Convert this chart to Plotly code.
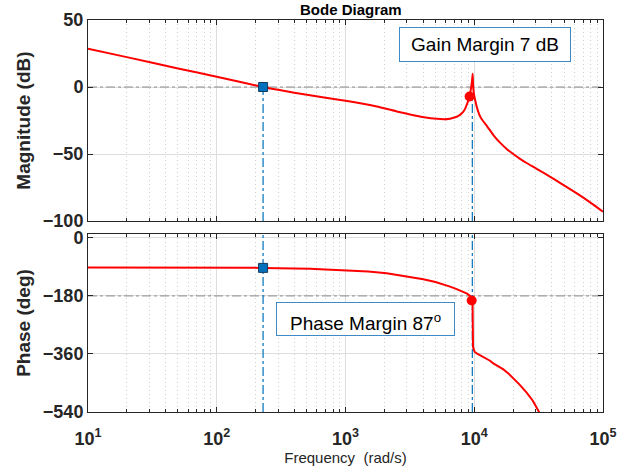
import numpy as np
import plotly.graph_objects as go

# ---- data ----
mag_w = [10, 20, 50, 100, 229, 300, 400, 530, 700, 1000, 1400, 1750, 2500,
         3365, 4200, 5105, 5800, 6486, 7311, 7745, 8200, 8472, 8800, 8995,
         9162, 9376, 9594, 9727, 9790, 9850, 10000, 10233, 10471, 10839, 11220,
         11776, 12589, 14125, 15849, 17783, 19953, 22387, 25119, 30549, 39811,
         50119, 63096, 79433, 100000]
mag_db = [28.6, 22.3, 13.9, 7.7, 0.0, -2.1, -4.2, -6.2, -8.0, -10.2, -12.6,
          -14.5, -18.2, -21.0, -22.8, -23.7, -24.0, -23.6, -22.2, -20.8, -18.5,
          -16.5, -12.5, -10.0, -7.5, -2.5, 4.0, 10.0, 2.0, -2.0, -6.5, -11.0,
          -15.0, -19.5, -22.8, -25.7, -29.3, -36.0, -41.5, -46.0, -49.8, -53.2,
          -56.3, -61.0, -67.5, -73.5, -79.5, -86.0, -93.0]

ph_w = [10, 100, 229, 530, 1000, 1500, 2090, 3170, 4018, 5000, 5754, 6486,
        7300, 8222, 8800, 9268, 9550, 9700, 9780, 9900, 10050, 10447, 11500,
        12500, 13250, 14060, 15500, 16830, 18500, 19950, 22500, 25530, 28500,
        31480, 34000]
ph_deg = [-92.0, -92.5, -93.0, -96.0, -100.0, -104.5, -110.0, -120.0, -128.0,
          -137.0, -144.0, -151.0, -159.0, -167.0, -173.0, -180.0, -190.0,
          -200.0, -338.0, -348.0, -353.0, -358.0, -367.0, -374.0, -381.0,
          -389.0, -398.0, -408.0, -421.0, -434.0, -455.0, -480.0, -505.0,
          -536.0, -565.0]

wc = 229          # gain crossover frequency (rad/s)
wc_mag = 0.0
wc_ph = -93.0
wpc = 9660        # phase crossover line (rad/s)
gm_w, gm_mag = 9200, -7.0
pm_w, pm_ph = 9550, -194.0

x_major = [10, 100, 1000, 10000, 100000]
x_major_text = ["10<sup>1</sup>", "10<sup>2</sup>", "10<sup>3</sup>",
                "10<sup>4</sup>", "10<sup>5</sup>"]
x_minor = [m * d for d in [10, 100, 1000, 10000] for m in range(2, 10)]
mag_ticks = [-100, -50, 0, 50]
ph_ticks = [-540, -360, -180, 0]

FONT = "Liberation Sans, Arial, sans-serif"
RED = "#ff0000"
BLUE = "#0072BD"
GRID = "#dedede"
MINOR = "#cfcfcf"

fig = go.Figure()

# reference lines (0 dB / -180 deg)
fig.add_trace(go.Scatter(x=[10, 100000], y=[0, 0], mode="lines",
                         line=dict(color="#8c8c8c", width=1, dash="dashdot"),
                         xaxis="x", yaxis="y", hoverinfo="skip"))
fig.add_trace(go.Scatter(x=[10, 100000], y=[-180, -180], mode="lines",
                         line=dict(color="#8c8c8c", width=1, dash="dashdot"),
                         xaxis="x2", yaxis="y2", hoverinfo="skip"))

# vertical margin lines
vl = dict(color=BLUE, width=1.2, dash="dashdot")
fig.add_trace(go.Scatter(x=[wc, wc], y=[-100, wc_mag], mode="lines", line=vl,
                         xaxis="x", yaxis="y", hoverinfo="skip"))
fig.add_trace(go.Scatter(x=[wc, wc], y=[-540, 12], mode="lines", line=vl,
                         xaxis="x2", yaxis="y2", hoverinfo="skip"))
fig.add_trace(go.Scatter(x=[wpc, wpc], y=[-100, gm_mag], mode="lines", line=vl,
                         xaxis="x", yaxis="y", hoverinfo="skip"))
fig.add_trace(go.Scatter(x=[wpc, wpc], y=[-540, 12], mode="lines", line=vl,
                         xaxis="x2", yaxis="y2", hoverinfo="skip"))

# curves
fig.add_trace(go.Scatter(x=mag_w, y=mag_db, mode="lines",
                         line=dict(color=RED, width=2, shape="spline",
                                   smoothing=0.6),
                         xaxis="x", yaxis="y"))
fig.add_trace(go.Scatter(x=ph_w, y=ph_deg, mode="lines",
                         line=dict(color=RED, width=2), xaxis="x2", yaxis="y2"))

# markers
sq = dict(symbol="square", size=9, color=BLUE, line=dict(color="#123a5c", width=1))
fig.add_trace(go.Scatter(x=[wc], y=[wc_mag], mode="markers", marker=sq,
                         xaxis="x", yaxis="y"))
fig.add_trace(go.Scatter(x=[wc], y=[wc_ph], mode="markers", marker=sq,
                         xaxis="x2", yaxis="y2"))
dot = dict(symbol="circle", size=10, color=RED)
fig.add_trace(go.Scatter(x=[gm_w], y=[gm_mag], mode="markers", marker=dot,
                         xaxis="x", yaxis="y"))
fig.add_trace(go.Scatter(x=[pm_w], y=[pm_ph], mode="markers", marker=dot,
                         xaxis="x2", yaxis="y2"))

top_dom = [0.487, 1.0]
bot_dom = [0.0, 0.454]

# blue lines through the gap between the two axes
for w in (wc, wpc):
    fig.add_shape(type="line", xref="x", yref="paper",
                  x0=np.log10(w), x1=np.log10(w), y0=bot_dom[1], y1=top_dom[0],
                  line=vl)

tickfont = dict(family=FONT, size=18, color="#262626", weight="bold")
common_x = dict(type="log", range=[1, 5], showline=True, linecolor="#262626",
                linewidth=1, mirror="ticks", ticks="inside", ticklen=5,
                tickcolor="#262626", tickmode="array", tickvals=x_major,
                showgrid=True, gridcolor=GRID, zeroline=False, automargin=False,
                minor=dict(tickmode="array", tickvals=x_minor, ticks="inside",
                           ticklen=3, tickcolor="#262626", showgrid=True,
                           gridcolor=MINOR, griddash="1px,3px", gridwidth=1))
common_y = dict(showline=True, linecolor="#262626", linewidth=1,
                mirror="ticks", ticks="inside", ticklen=5, tickcolor="#262626",
                showgrid=True, gridcolor=GRID, zeroline=False, automargin=False,
                tickfont=tickfont, tickmode="array")

fig.update_layout(
    width=630, height=468,
    margin=dict(l=88, r=27, t=20, b=56, autoexpand=False),
    paper_bgcolor="white", plot_bgcolor="white",
    showlegend=False,
    font=dict(family=FONT, color="#262626"),
    xaxis=dict(common_x, anchor="y", showticklabels=False),
    xaxis2=dict(common_x, anchor="y2", matches="x", ticktext=x_major_text,
                tickfont=tickfont, ticklabelstandoff=10,
                title=dict(text="Frequency  (rad/s)",
                           font=dict(family=FONT, size=15, color="#262626"),
                           standoff=1)),
    yaxis=dict(common_y, domain=top_dom, range=[-100, 50], tickvals=mag_ticks,
               title=dict(text="Magnitude (dB)", standoff=7,
                          font=dict(family=FONT, size=19, color="#262626",
                                    weight="bold"))),
    yaxis2=dict(common_y, domain=bot_dom, range=[-540, 12], tickvals=ph_ticks,
                title=dict(text="Phase (deg)", standoff=7,
                           font=dict(family=FONT, size=19, color="#262626",
                                     weight="bold"))),
    annotations=[
        dict(text="<b>Bode Diagram</b>", xref="paper", yref="paper", x=0.51,
             y=1.0, xanchor="center", yanchor="bottom", showarrow=False,
             font=dict(family=FONT, size=15, color="black")),
        dict(text="Gain Margin 7 dB", xref="paper", yref="paper", x=0.771,
             y=0.9375, xanchor="center", yanchor="middle", showarrow=False,
             width=168, height=31, borderpad=1, bordercolor="#3d8ac6",
             borderwidth=1, bgcolor="white",
             font=dict(family=FONT, size=19, color="black")),
        dict(text="Phase Margin 87<sup>o</sup>", xref="paper", yref="paper",
             x=0.538, y=0.237, xanchor="center", yanchor="middle",
             showarrow=False, width=175, height=30, borderpad=1,
             valign="bottom", bordercolor="#3d8ac6", borderwidth=1,
             bgcolor="white", font=dict(family=FONT, size=19, color="black")),
    ],
)

fig.write_html("out.html")
